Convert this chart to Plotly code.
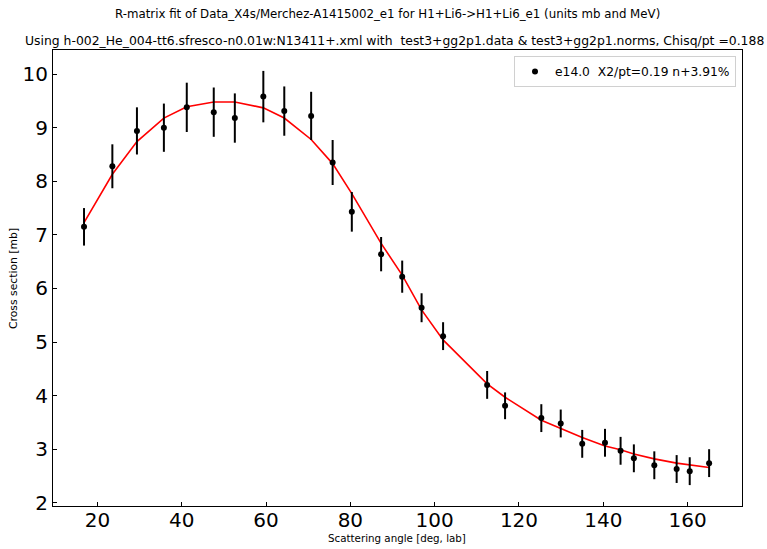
import plotly.graph_objects as go

# Data: scattering angle (deg, lab), cross section (mb), error (mb)
angle = [16.83, 23.55, 29.38, 35.77, 41.2, 47.6, 52.6, 59.36, 64.33, 70.7,
         75.8, 80.35, 87.3, 92.3, 96.9, 102.0, 112.45, 116.7, 125.3, 129.9,
         135.0, 140.4, 144.1, 147.25, 152.1, 157.4, 160.5, 165.1]
xs = [7.15, 8.28, 8.94, 9.00, 9.38, 9.29, 9.18, 9.58, 9.31, 9.22,
      8.35, 7.43, 6.64, 6.22, 5.64, 5.11, 4.20, 3.81, 3.58, 3.48,
      3.10, 3.12, 2.97, 2.83, 2.70, 2.63, 2.59, 2.74]
err = [0.35, 0.41, 0.44, 0.45, 0.46, 0.46, 0.46, 0.48, 0.46, 0.45,
       0.42, 0.37, 0.32, 0.30, 0.27, 0.26, 0.26, 0.25, 0.26, 0.26,
       0.26, 0.26, 0.26, 0.26, 0.26, 0.26, 0.26, 0.26]
fit = [7.23, 8.13, 8.74, 9.18, 9.39, 9.48, 9.48, 9.37, 9.18, 8.78,
       8.33, 7.77, 6.84, 6.25, 5.60, 5.04, 4.22, 3.97, 3.54, 3.39,
       3.22, 3.06, 2.99, 2.91, 2.82, 2.74, 2.71, 2.66]

title1 = "R-matrix fit of Data_X4s/Merchez-A1415002_e1 for H1+Li6->H1+Li6_e1 (units mb and MeV)"
title2 = "Using h-002_He_004-tt6.sfresco-n0.01w:N13411+.xml with  test3+gg2p1.data & test3+gg2p1.norms, Chisq/pt =0.188"
legend_name = "e14.0  X2/pt=0.19 n+3.91%"
xlabel = "Scattering angle [deg, lab]"
ylabel = "Cross section [mb]"

W, H = 767, 549
L, R, T, B = 53, 25, 50, 43
FONT = "DejaVu Sans"

fig = go.Figure()
fig.add_trace(go.Scatter(
    x=angle, y=fit, mode="lines",
    line=dict(color="red", width=1.6),
    showlegend=False, hoverinfo="skip"))
fig.add_trace(go.Scatter(
    x=angle, y=xs, mode="markers", name=legend_name,
    marker=dict(color="black", size=6),
    error_y=dict(type="data", array=err, color="black", thickness=2, width=0)))

pw = W - L - R
ph = H - T - B

def px_x(p):
    return (p - L) / pw

def px_y(p):
    return 1 - (p - T) / ph

fig.update_layout(
    width=W, height=H,
    margin=dict(l=L, r=R, t=T, b=B, autoexpand=False),
    paper_bgcolor="white", plot_bgcolor="white",
    font=dict(family=FONT, color="black"),
    showlegend=True,
    legend=dict(x=px_x(736), xanchor="right", y=px_y(56), yanchor="top",
                bgcolor="white", bordercolor="#d0d0d0", borderwidth=1,
                font=dict(size=12.3, family=FONT), itemwidth=30),
    xaxis=dict(range=[9.47, 172.9], tickvals=[20, 40, 60, 80, 100, 120, 140, 160],
               ticks="inside", ticklen=4, tickwidth=1, tickcolor="black",
               showline=True, linecolor="black", linewidth=1, mirror=True,
               showgrid=False, zeroline=False, ticklabelstandoff=-4,
               tickfont=dict(size=20, family=FONT)),
    yaxis=dict(range=[1.94, 10.45], tickvals=[2, 3, 4, 5, 6, 7, 8, 9, 10],
               ticks="inside", ticklen=4, tickwidth=1, tickcolor="black",
               showline=True, linecolor="black", linewidth=1, mirror=True,
               showgrid=False, zeroline=False,
               tickfont=dict(size=20, family=FONT)),
    annotations=[
        dict(text=title1, xref="paper", yref="paper", x=px_x(387), y=px_y(14),
             xanchor="center", yanchor="middle", showarrow=False,
             font=dict(size=11.8, family=FONT)),
        dict(text=title2, xref="paper", yref="paper", x=px_x(766), y=px_y(40),
             xanchor="right", yanchor="middle", showarrow=False,
             font=dict(size=12.4, family=FONT)),
        dict(text=xlabel, xref="paper", yref="paper", x=px_x(397), y=px_y(538),
             xanchor="center", yanchor="middle", showarrow=False,
             font=dict(size=10.3, family=FONT)),
        dict(text=ylabel, xref="paper", yref="paper", x=px_x(13), y=px_y(279),
             xanchor="center", yanchor="middle", showarrow=False, textangle=-90,
             font=dict(size=10.8, family=FONT)),
    ],
)

fig.write_html("out.html")
